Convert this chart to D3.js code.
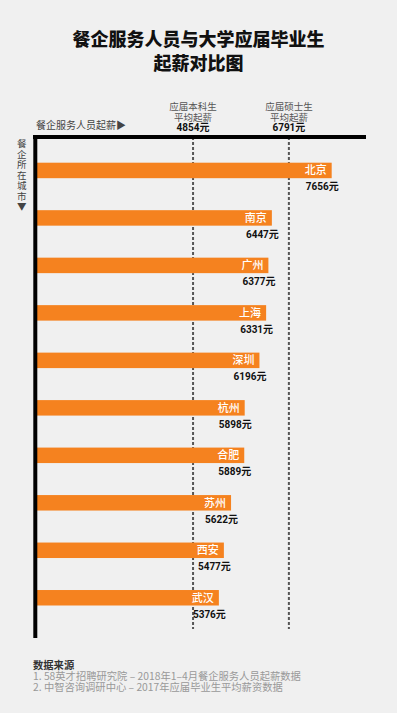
<!DOCTYPE html>
<html>
<head>
<meta charset="utf-8">
<script src="https://cdn.jsdelivr.net/npm/d3@7"></script>
<style>
  body { margin: 0; background: #f0f0f0; }
  svg { display: block; font-family: 'Noto Sans CJK SC', 'Noto Sans', sans-serif; }
</style>
</head>
<body>
<figure id="bar" style="margin:0"></figure>
<script>
// data
const cities = ['北京', '南京', '广州', '上海', '深圳', '杭州', '合肥', '苏州', '西安', '武汉'];
const salaries = [7656, 6447, 6377, 6331, 6196, 5898, 5889, 5622, 5477, 5376];
const refLabels = [['应届本科生', '平均起薪'], ['应届硕士生', '平均起薪']];
const refValues = [4854, 6791];
const titleLines = ['餐企服务人员与大学应届毕业生', '起薪对比图'];
const sources = ['1. 58英才招聘研究院 – 2018年1–4月餐企服务人员起薪数据', '2. 中智咨询调研中心 – 2017年应届毕业生平均薪资数据'];

const width = 397;
const height = 713;
const orange = '#f5821f';
const numFont = "Roboto, 'Noto Sans CJK SC', sans-serif";

const svg = d3.select('figure#bar')
  .append('svg')
  .attr('width', width)
  .attr('height', height);

svg.append('rect').attr('width', width).attr('height', height).attr('fill', '#f0f0f0');

// title
svg.selectAll('text.title')
  .data(titleLines)
  .enter().append('text')
  .attr('class', 'title')
  .attr('x', width / 2)
  .attr('y', (d, i) => 46 + i * 24)
  .attr('text-anchor', 'middle')
  .style('font-size', '18px')
  .style('font-weight', '900')
  .style('fill', '#111')
  .text(d => d);

// scales (the infographic does not start its bars at zero)
const x = d3.scaleLinear().domain([1700, 8000]).range([37, 348.7]);
const y = d3.scaleBand().domain(cities).range([162.7, 605.5]).paddingInner(0.674).paddingOuter(0);

const axisTop = 137;
const axisBottom = 638;

// reference dashed lines
svg.selectAll('line.ref')
  .data(refValues)
  .enter().append('line')
  .attr('class', 'ref')
  .attr('x1', d => x(d)).attr('x2', d => x(d))
  .attr('y1', axisTop).attr('y2', 629)
  .attr('stroke', '#555')
  .attr('stroke-width', 2)
  .attr('stroke-dasharray', '3,2');

// header over the dashed lines: one text block per line, tspans for the rows
refValues.forEach((v, i) => {
  const t = svg.append('text')
    .attr('x', x(v))
    .attr('y', 110)
    .attr('text-anchor', 'middle')
    .style('font-size', '9.5px')
    .style('fill', '#555');
  refLabels[i].forEach((s, j) => {
    t.append('tspan')
      .attr('x', x(v))
      .attr('dy', j === 0 ? 0 : 10.5)
      .text(s);
  });
  t.append('tspan')
    .attr('x', x(v))
    .attr('dy', 10.5)
    .style('font-family', numFont)
    .style('font-size', '10px')
    .style('font-weight', 'bold')
    .style('fill', '#111')
    .text(v + '元');
});

// bars
svg.selectAll('rect.bar')
  .data(salaries)
  .enter().append('rect')
  .attr('class', 'bar')
  .attr('x', x.range()[0])
  .attr('y', (d, i) => y(cities[i]))
  .attr('width', d => x(d) - x.range()[0])
  .attr('height', y.bandwidth())
  .attr('fill', orange);

// city names inside the bars
svg.selectAll('text.city')
  .data(salaries)
  .enter().append('text')
  .attr('class', 'city')
  .attr('x', d => x(d) - 5)
  .attr('y', (d, i) => y(cities[i]) + y.bandwidth() / 2 + 4)
  .attr('text-anchor', 'end')
  .style('font-size', '11px')
  .style('font-weight', '500')
  .style('fill', '#fff')
  .text((d, i) => cities[i]);

// values under the bars
svg.selectAll('text.value')
  .data(salaries)
  .enter().append('text')
  .attr('class', 'value')
  .attr('x', d => x(d) + 7)
  .attr('y', (d, i) => y(cities[i]) + y.bandwidth() + 12.3)
  .attr('text-anchor', 'end')
  .style('font-family', numFont)
  .style('font-size', '10px')
  .style('font-weight', 'bold')
  .style('fill', '#111')
  .text(d => d + '元');

// the thick frame lines
svg.append('line')
  .attr('x1', 33).attr('x2', 366)
  .attr('y1', axisTop).attr('y2', axisTop)
  .attr('stroke', '#000').attr('stroke-width', 4);
svg.append('line')
  .attr('x1', 35.3).attr('x2', 35.3)
  .attr('y1', axisTop - 2).attr('y2', axisBottom)
  .attr('stroke', '#000').attr('stroke-width', 4);

// axis captions
svg.append('text')
  .attr('x', 36)
  .attr('y', 129)
  .style('font-size', '10px')
  .style('fill', '#444')
  .text('餐企服务人员起薪▶');

// vertical caption, one text written top to bottom
svg.append('text')
  .attr('x', 21.7)
  .attr('y', 139)
  .style('writing-mode', 'vertical-rl')
  .style('font-size', '9.5px')
  .style('letter-spacing', '1px')
  .style('fill', '#444')
  .text('餐企所在城市▼');

// sources block
const src = svg.append('text')
  .attr('x', 33)
  .attr('y', 668.5)
  .style('font-size', '10.3px')
  .style('fill', '#999');
src.append('tspan')
  .attr('x', 33)
  .style('font-weight', 'bold')
  .style('fill', '#333')
  .text('数据来源');
sources.forEach(s => {
  src.append('tspan')
    .attr('x', 33)
    .attr('dy', 11)
    .text(s);
});
</script>
</body>
</html>
